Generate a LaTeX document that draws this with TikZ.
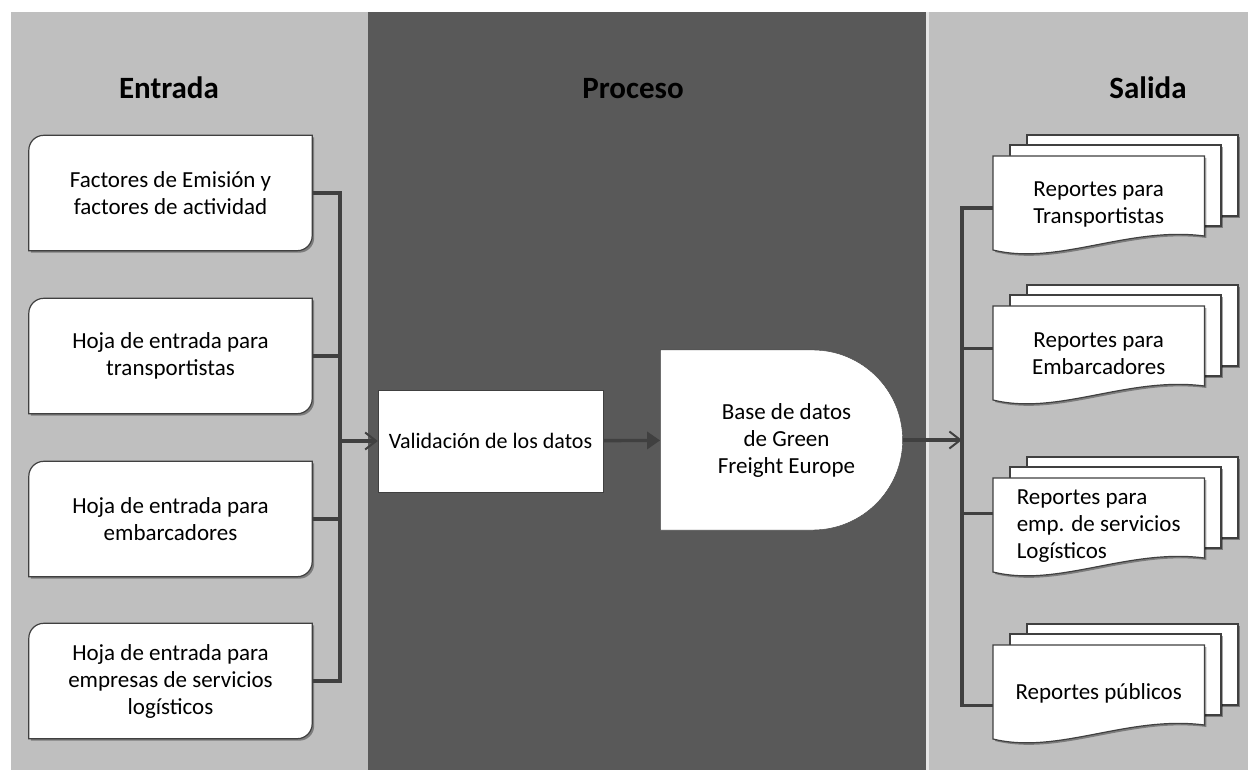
\documentclass[tikz,border=0pt]{standalone}
\usepackage{fontspec}
\setmainfont{Carlito}
\usetikzlibrary{shapes.misc, arrows.meta, positioning, calc, shadows}
\pgfdeclarelayer{panels}
\pgfdeclarelayer{sheets}
\pgfsetlayers{panels,sheets,main}
\definecolor{panelgray}{HTML}{BFBFBF}
\definecolor{paneldark}{HTML}{595959}
\definecolor{linegray}{HTML}{404040}

\begin{document}
\begin{tikzpicture}[x=1pt, y=-1pt,
    title/.style={font=\fontsize{31}{36}\selectfont\bfseries, anchor=base},
    inbox/.style={minimum width=283pt, minimum height=115pt, inner sep=0pt, align=center, font=\fontsize{23}{27}\selectfont},
    valbox/.style={rectangle, draw=linegray, fill=white, minimum width=225pt, minimum height=102pt, align=center, font=\fontsize{22}{27}\selectfont},
    dbase/.style={rounded rectangle, rounded rectangle west arc=none, draw=linegray, fill=white, minimum width=249pt, minimum height=180pt, align=center, font=\fontsize{23}{27}\selectfont},
    report/.style={minimum width=211pt, minimum height=96pt, inner sep=0pt, anchor=north west, align=center, font=\fontsize{23}{27}\selectfont},
    outline/.style={draw=linegray, line width=1.2pt, fill=white, drop shadow={shadow xshift=2pt, shadow yshift=-2pt, opacity=0.35, fill=black}},
    conn/.style={draw=linegray, line width=3.4pt},
    arrow/.style={conn, -{Straight Barb[length=11pt, width=17pt, line width=2pt]}},
    thickarrow/.style={conn, -{Triangle[length=13pt, width=17pt]}}
]
\useasboundingbox (0,0) rectangle (1248,770);

% Panels
\begin{pgfonlayer}{panels}
\fill[white] (0,0) rectangle (1248,770);
\fill[panelgray] (11,12) rectangle (368,770);
\fill[paneldark] (368,12) rectangle (926,770);
\fill[white!60!panelgray] (926,12) rectangle (929,770);
\fill[panelgray] (929,12) rectangle (1248,770);
\end{pgfonlayer}

% Titles
\node[title] (tin) at (169,99) {Entrada};
\node[title] (tproc) at (633,99) {Proceso};
\node[title] (tout) at (1148,99) {Salida};

% Inputs
\node[inbox] (emision) at (170.5,193) {Factores de Emisión y\\factores de actividad};
\node[inbox] (transp) at (170.5,356) {Hoja de entrada para\\transportistas};
\node[inbox] (embarc) at (170.5,519) {Hoja de entrada para\\embarcadores};
\node[inbox] (logist) at (170.5,681) {Hoja de entrada para\\empresas de servicios\\logísticos};

% Process
\node[valbox] (valid) at (490.5,441) {Validación de los datos};
\node[dbase] (gfe) at (777.5,440) {\hspace*{18pt}Base de datos\\\hspace*{18pt}de Green\\\hspace*{18pt}Freight Europe};

% Outputs
\node[report] (rtrans) at (993,156) {Reportes para\\Transportistas};
\node[report] (rembarc) at (993,306) {Reportes para\\Embarcadores};
\node[report, align=left] (rlogist) at (993,478) {Reportes para\\emp. de servicios\\Logísticos};
\node[report] (rpub) at (993,645) {Reportes públicos};

% Box outlines
\begin{pgfonlayer}{sheets}
\foreach \n in {emision,transp,embarc,logist}{
  \draw[outline] (\n.south west) -- ([yshift=-15pt]\n.north west) to[out=90,in=180] ([xshift=15pt]\n.north west)
    -- (\n.north east) -- ([yshift=15pt]\n.south east) to[out=-90,in=0] ([xshift=-15pt]\n.south east) -- cycle;
}
\foreach \n in {rtrans,rembarc,rlogist,rpub}{
  \draw[outline] ($(\n.north west)+(34,-21)$) rectangle ++(211,81);
  \draw[outline] ($(\n.north west)+(17,-11)$) rectangle ++(211,81);
  \draw[outline] (\n.north west) -- (\n.north east) -- ($(\n.north east)+(0,80)$)
    .. controls ($(\n.north west)+(135,70)$) and ($(\n.north west)+(65,110)$) .. ($(\n.north west)+(0,94)$) -- cycle;
}
\end{pgfonlayer}

% Input connectors
\coordinate (trunkin) at (340,0);
\draw[conn] (emision.east) -| (trunkin |- logist.east) -- (logist.east);
\draw[conn] (transp.east) -- (transp.east -| trunkin);
\draw[conn] (embarc.east) -- (embarc.east -| trunkin);
\draw[arrow] (trunkin |- valid.west) -- (valid.west);

\draw[thickarrow] (valid) -- (gfe);

% Output connectors
\coordinate (trunkout) at (962,0);
\coordinate (p1) at ([yshift=-4pt]rtrans.west);
\coordinate (p2) at ([yshift=6pt]rembarc.west);
\coordinate (p3) at ([yshift=13pt]rlogist.west);
\coordinate (p4) at ([yshift=-12pt]rpub.west);
\draw[arrow] (gfe.east) -- (gfe.east -| trunkout);
\draw[conn] (p1) -| (trunkout |- p4) -- (p4);
\draw[conn] (p2) -- (p2 -| trunkout);
\draw[conn] (p3) -- (p3 -| trunkout);

\end{tikzpicture}
\end{document}
